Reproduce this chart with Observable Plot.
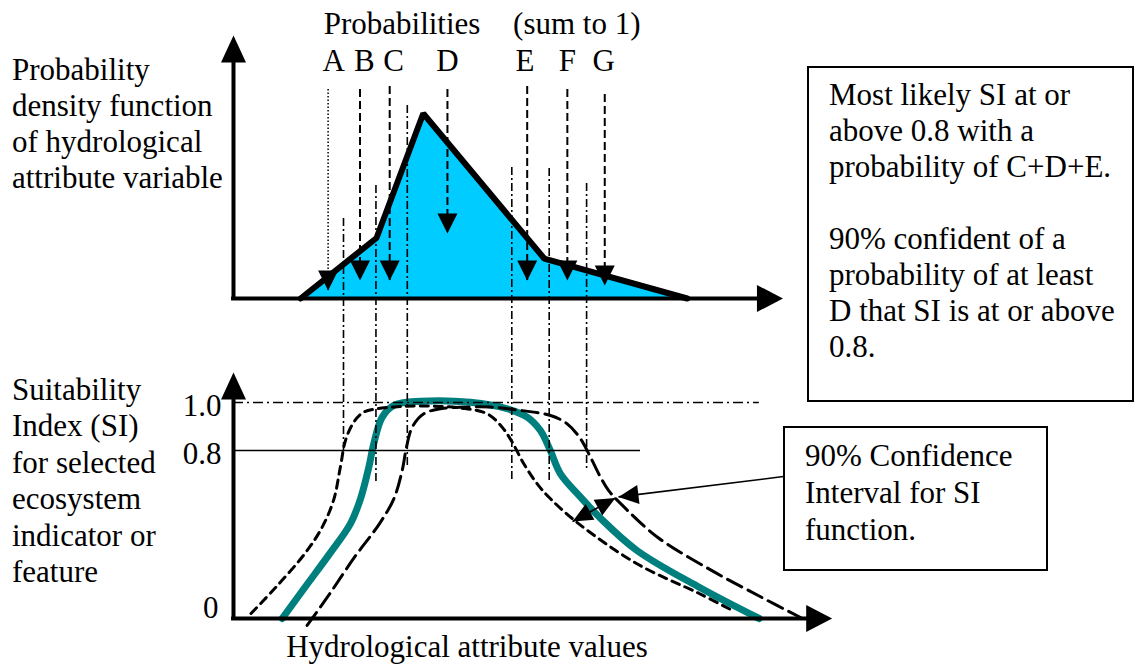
<!DOCTYPE html>
<html>
<head>
<meta charset="utf-8">
<script src="https://cdn.jsdelivr.net/npm/d3@7"></script>
<script src="https://cdn.jsdelivr.net/npm/@observablehq/plot@0.6"></script>
<style>
  html, body { margin: 0; padding: 0; background: #fff; }
  #wrap { position: relative; width: 1136px; height: 664px; overflow: hidden;
          font-family: "Liberation Serif", "Times New Roman", serif; font-size: 31px; color: #000; }
  #wrap svg { position: absolute; left: 0; top: 0; }
  .t { position: absolute; white-space: pre; line-height: 36px; }
  .box { position: absolute; border: 2px solid #000; box-sizing: border-box; background: #fff; }
</style>
</head>
<body>
<div id="wrap"></div>
<script>
// ---------------- data ----------------
// hydrological attribute value (x, arbitrary 0-100 units)
const pdfX = [12.2, 26.0, 34.5, 56.5, 82.5];
const pdfDensity = [0, 0.327, 1.0, 0.216, 0];

const probLabels = ["A", "B", "C", "D", "E", "F", "G"];
const probLabelX = [18.2, 23.8, 29.1, 38.9, 53.0, 60.7, 67.3];
const probArrowX = [17.2, 23.0, 28.4, 38.9, 53.4, 60.7, 67.5];
const probArrowFrom = [1.13, 1.13, 1.146, 1.13, 1.146, 1.13, 1.103];
const probArrowTo = [0.043, 0.097, 0.097, 0.351, 0.097, 0.097, 0.070];

const guideX = [20.0, 25.9, 31.6, 50.6, 57.4, 64.2];
const guideFromDensity = [0.432, 0.611, 1.043, 0.708, 0.703, 0.622];
const guideToSI = [0.790, 0.648, 0.714, 0.657, 0.648, 0.705];

// Suitability index function (teal) and its 90% confidence band (dashed)
const siX  = [8.85, 13.0, 17.53, 21.27, 23.09, 24.6, 25.5, 27.04, 29.15, 34.0, 43.1, 49.76, 53.4, 55.8, 57.6, 59.45, 63.1, 66.55, 73.35, 84.67, 95.6];
const siVal = [0, 0.149, 0.310, 0.452, 0.570, 0.720, 0.828, 0.939, 0.988, 1.005, 1.001, 0.974, 0.939, 0.883, 0.800, 0.689, 0.578, 0.482, 0.324, 0.149, 0];

const loX  = [3.18, 7.71, 13.0, 16.0, 18.18, 19.45, 20.36, 21.87, 23.69, 25.82, 30.36, 35.82, 41.27, 46.13, 48.85, 50.67, 52.78, 55.22, 57.64, 62.73, 73.27, 84.67, 90.73];
const loVal = [0.024, 0.149, 0.310, 0.429, 0.562, 0.724, 0.842, 0.918, 0.960, 0.973, 0.983, 0.985, 0.977, 0.953, 0.897, 0.835, 0.737, 0.641, 0.570, 0.452, 0.262, 0.119, 0.038];

const hiX  = [13.38, 17.53, 22.0, 26.55, 29.15, 30.67, 31.45, 32.49, 34.6, 37.64, 41.27, 46.73, 52.18, 57.64, 60.67, 63.09, 64.91, 66.73, 68.18, 70.36, 77.09, 86.91, 96.0, 103.45];
const hiVal = [-0.033, 0.119, 0.292, 0.452, 0.570, 0.705, 0.814, 0.897, 0.953, 0.974, 0.980, 0.981, 0.967, 0.946, 0.911, 0.849, 0.768, 0.673, 0.610, 0.548, 0.387, 0.229, 0.101, 0];

const siTickValues = [1.0, 0.8];
const siTickLabels = ["1.0", "0.8"];
const siZeroLabel = "0";

// confidence-interval annotation arrows
const ciPointerX = [100, 70.0];
const ciPointerSI = [0.676, 0.579];
const ciSpanX = [61.64, 69.45];
const ciSpanSI = [0.462, 0.574];

// texts
const titleText = "Probabilities";
const titleNote = "(sum to 1)";
const pdfAxisLabel = ["Probability", "density function", "of hydrological", "attribute variable"];
const siAxisLabel = ["Suitability", "Index (SI)", "for selected", "ecosystem", "indicator or", "feature"];
const xAxisLabel = "Hydrological attribute values";
const noteLines = ["Most likely SI at or", "above 0.8 with a", "probability of C+D+E.", "", "90% confident of a", "probability of at least", "D that SI is at or above", "0.8."];
const ciLines = ["90% Confidence", "Interval for SI", "function."];

// ---------------- layout ----------------
const X = {type: "linear", domain: [0, 100], range: [233, 783]};
const Y = {type: "linear", domain: [0, 0.8, 1], range: [618, 450, 402]};
const TOP_BASE = 1 + (402 - 298) / 240;  // density 0 of the upper panel, expressed on the shared y scale
const TOP_UNIT = 185 / 240;
const topY = d => TOP_BASE + d * TOP_UNIT;
const FONT = "Liberation Serif";
const FS = 31;

const sx = Plot.scale({x: X});
const sy = Plot.scale({y: Y});
function dirAngle(x1, y1, x2, y2) {
  return Math.atan2(sy.apply(y2) - sy.apply(y1), sx.apply(x2) - sx.apply(x1));
}
function head(angle, len, wid) {
  return {
    draw(ctx) {
      const ux = Math.cos(angle), uy = Math.sin(angle), px = -uy, py = ux;
      ctx.moveTo(0, 0);
      ctx.lineTo(-ux * len + px * wid / 2, -uy * len + py * wid / 2);
      ctx.lineTo(-ux * len - px * wid / 2, -uy * len - py * wid / 2);
      ctx.closePath();
    }
  };
}
const UP = -Math.PI / 2, DOWN = Math.PI / 2, RIGHT = 0;

// ---------------- tables ----------------
const pdf = pdfX.map((x, i) => ({x, d: pdfDensity[i]}));
const probs = probLabels.map((label, i) => ({label, lx: probLabelX[i], x: probArrowX[i], from: probArrowFrom[i], to: probArrowTo[i]}));
const guides = guideX.map((x, i) => ({x, from: guideFromDensity[i], to: guideToSI[i]}));
const si = siX.map((x, i) => ({x, y: siVal[i]}));
const lo = loX.map((x, i) => ({x, y: loVal[i]}));
const hi = hiX.map((x, i) => ({x, y: hiVal[i]}));
const ticks = siTickValues.map((v, i) => ({v, label: siTickLabels[i]}));

// axis extents (upper panel: density; lower panel: SI)
const topAxisTip = 1.422, topXTip = 99.9, botAxisTip = 1.125, botXTip = 108.85;
const lineOneEnd = 95.6, lineEightEnd = 74.0;

const ptrAngle = dirAngle(ciPointerX[0], ciPointerSI[0], ciPointerX[1], ciPointerSI[1]);
const spanAngleUp = dirAngle(ciSpanX[0], ciSpanSI[0], ciSpanX[1], ciSpanSI[1]);
const spanAngleDown = spanAngleUp + Math.PI;

const chart = Plot.plot({
  width: 1136, height: 664,
  marginTop: 0, marginRight: 0, marginBottom: 0, marginLeft: 0,
  x: {...X, axis: null},
  y: {...Y, axis: null},
  style: {background: "none", fontFamily: FONT, fontSize: FS + "px", overflow: "visible"},
  marks: [
    // upper panel fill
    Plot.area(pdf, {x1: "x", y1: () => topY(0), y2: d => topY(d.d), fill: "#00CCFF"}),
    // lower panel curves
    Plot.line(si, {x: "x", y: "y", curve: "catmull-rom", stroke: "#007f7f", strokeWidth: 7}),
    Plot.line(lo, {x: "x", y: "y", curve: "catmull-rom", stroke: "#000", strokeWidth: 3, strokeDasharray: "8,6"}),
    Plot.line(hi, {x: "x", y: "y", curve: "catmull-rom", stroke: "#000", strokeWidth: 3, strokeDasharray: "16,7"}),
    // reference lines at SI 1.0 and 0.8
    Plot.ruleY([1.0], {x1: 0, x2: lineOneEnd, stroke: "#000", strokeWidth: 1.5, strokeDasharray: "10,4,2,4"}),
    Plot.ruleY([0.8], {x1: 0, x2: lineEightEnd, stroke: "#000", strokeWidth: 1.5}),
    // dash-dot guides linking both panels
    Plot.ruleX(guides, {x: "x", y1: d => topY(d.from), y2: d => d.to, stroke: "#000", strokeWidth: 1.6, strokeDasharray: "8,3,2,3"}),
    // probability arrows
    Plot.ruleX(probs.filter(d => d.label === "A"), {x: "x", y1: d => topY(d.from), y2: d => topY(d.to), stroke: "#000", strokeWidth: 1.5, strokeDasharray: "1.5,2"}),
    Plot.ruleX(probs.filter(d => d.label !== "A"), {x: "x", y1: d => topY(d.from), y2: d => topY(d.to), stroke: "#000", strokeWidth: 2, strokeDasharray: "8,4"}),
    // pdf outline
    Plot.line(pdf, {x: "x", y: d => topY(d.d), stroke: "#000", strokeWidth: 6, strokeLinejoin: "miter"}),
    Plot.dot(probs, {x: "x", y: d => topY(d.to), r: 5, symbol: head(DOWN, 20, 20), fill: "#000", stroke: "none"}),
    // axes (upper)
    Plot.ruleX([0], {y1: topY(-0.01), y2: topY(topAxisTip - 0.05), stroke: "#000", strokeWidth: 4}),
    Plot.ruleY([topY(0)], {x1: -0.35, x2: topXTip - 1, stroke: "#000", strokeWidth: 4}),
    Plot.dot([{x: 0, y: topY(topAxisTip)}], {x: "x", y: "y", r: 5, symbol: head(UP, 27, 25), fill: "#000", stroke: "none"}),
    Plot.dot([{x: topXTip, y: topY(0)}], {x: "x", y: "y", r: 5, symbol: head(RIGHT, 26, 27), fill: "#000", stroke: "none"}),
    // axes (lower)
    Plot.ruleX([0], {y1: -0.01, y2: botAxisTip - 0.05, stroke: "#000", strokeWidth: 4}),
    Plot.ruleY([0], {x1: -0.35, x2: botXTip - 1, stroke: "#000", strokeWidth: 4}),
    Plot.dot([{x: 0, y: botAxisTip}], {x: "x", y: "y", r: 5, symbol: head(UP, 27, 25), fill: "#000", stroke: "none"}),
    Plot.dot([{x: botXTip, y: 0}], {x: "x", y: "y", r: 5, symbol: head(RIGHT, 26, 27), fill: "#000", stroke: "none"}),
    // CI annotation arrows
    Plot.link([0], {x1: () => ciPointerX[0], y1: () => ciPointerSI[0], x2: () => ciPointerX[1], y2: () => ciPointerSI[1], stroke: "#000", strokeWidth: 1.6}),
    Plot.dot([0], {x: () => ciPointerX[1], y: () => ciPointerSI[1], r: 5, symbol: head(ptrAngle, 20, 19), fill: "#000", stroke: "none"}),
    Plot.link([0], {x1: () => ciSpanX[0], y1: () => ciSpanSI[0], x2: () => ciSpanX[1], y2: () => ciSpanSI[1], stroke: "#000", strokeWidth: 1.6}),
    Plot.dot([0], {x: () => ciSpanX[1], y: () => ciSpanSI[1], r: 5, symbol: head(spanAngleUp, 20, 18), fill: "#000", stroke: "none"}),
    Plot.dot([0], {x: () => ciSpanX[0], y: () => ciSpanSI[0], r: 5, symbol: head(spanAngleDown, 20, 18), fill: "#000", stroke: "none"}),
    // labels
    Plot.text(probs, {x: "lx", y: () => topY(1.286), text: "label", fontFamily: FONT, fontSize: FS, fill: "#000"}),
    Plot.text([titleText], {x: 16.4, y: topY(1.485), text: d => d, textAnchor: "start", fontFamily: FONT, fontSize: FS, fill: "#000"}),
    Plot.text([titleNote], {x: 74.0, y: topY(1.485), text: d => d, textAnchor: "end", fontFamily: FONT, fontSize: FS, fill: "#000"}),
    Plot.text(ticks, {x: 0, y: "v", text: "label", dx: -12, dy: 4, textAnchor: "end", fontFamily: FONT, fontSize: FS, fill: "#000"}),
    Plot.text([siZeroLabel], {x: 0, y: 0, text: d => d, dx: -15, dy: -10, textAnchor: "end", fontFamily: FONT, fontSize: FS, fill: "#000"})
  ]
});

const wrap = document.getElementById("wrap");
wrap.appendChild(chart);

function addText(lines, left, top, lineHeight, extra) {
  const div = document.createElement("div");
  div.className = "t";
  div.style.left = left + "px";
  div.style.top = top + "px";
  div.style.lineHeight = lineHeight + "px";
  if (extra) Object.assign(div.style, extra);
  div.textContent = lines.join("\n");
  wrap.appendChild(div);
  return div;
}
function addBox(left, top, width, height) {
  const div = document.createElement("div");
  div.className = "box";
  Object.assign(div.style, {left: left + "px", top: top + "px", width: width + "px", height: height + "px"});
  wrap.appendChild(div);
}
addText(pdfAxisLabel, 12, 52, 36);
addText(siAxisLabel, 12, 372, 36.4);
addText([xAxisLabel], 467, 628.5, 36, {transform: "translateX(-50%)"});
addBox(807, 66, 327, 336);
addText(noteLines, 829, 76.5, 36);
addBox(783, 426, 265, 145);
addText(ciLines, 805, 436.5, 37);
</script>
</body>
</html>
